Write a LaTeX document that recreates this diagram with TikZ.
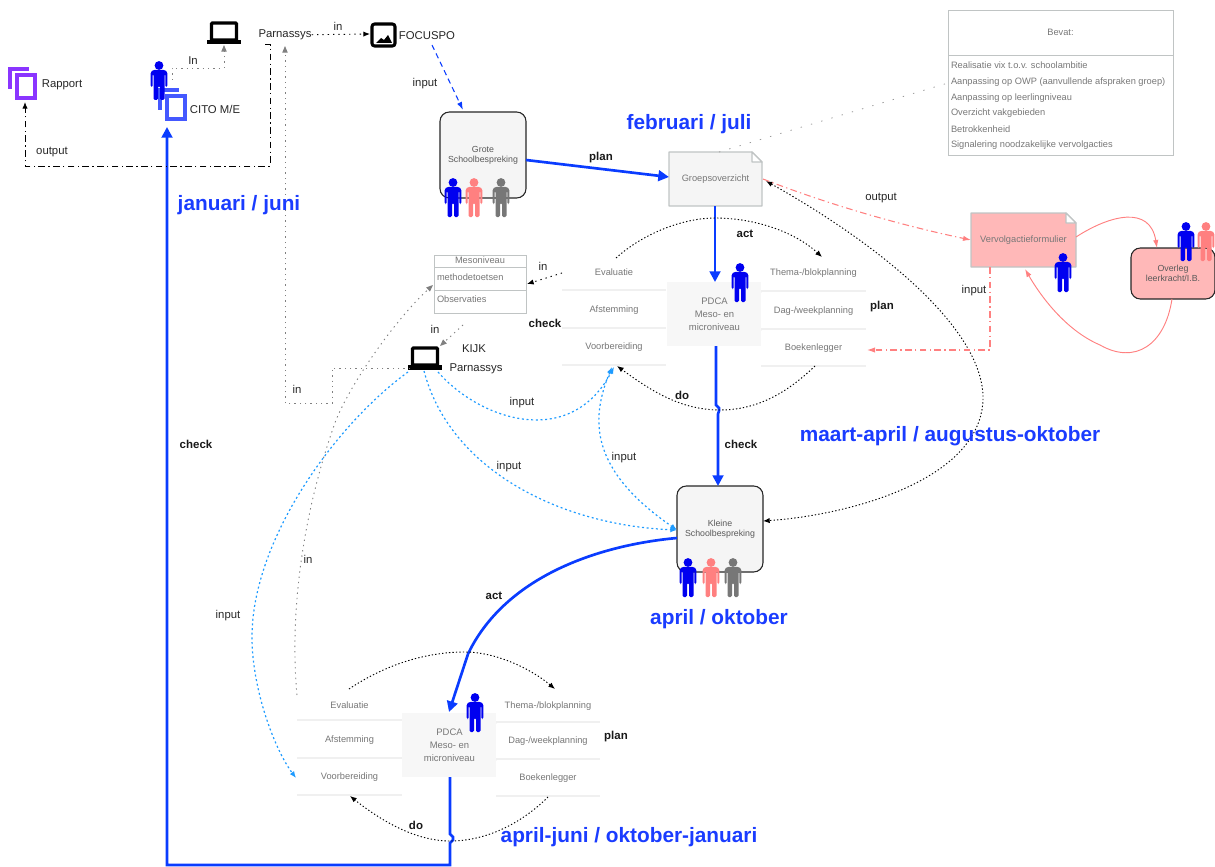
\documentclass[tikz,border=0pt]{standalone}
\usepackage{fontspec}
\setmainfont{Liberation Sans}
\usetikzlibrary{arrows.meta,calc}
\definecolor{titleblue}{HTML}{1A3CFF}
\definecolor{flowblue}{HTML}{0A3CFF}
\definecolor{skyblue}{HTML}{1E9BFF}
\definecolor{salmon}{HTML}{FF8080}
\definecolor{paleRed}{HTML}{FFB8B8}
\definecolor{boxedge}{HTML}{C0C4C4}
\definecolor{boxtext}{HTML}{777777}
\definecolor{personblue}{HTML}{0000F0}
\definecolor{persongray}{HTML}{777777}
\definecolor{docpurple}{HTML}{8A35FF}
\definecolor{docblue}{HTML}{4458FF}
\tikzset{
  lbl/.style={font=\fontsize{8.5}{10}\selectfont,inner sep=0pt,text=black!85,yshift=-1.3pt},
  boldlbl/.style={font=\fontsize{8.6}{10}\selectfont\bfseries,inner sep=0pt,text=black!90,yshift=-1.3pt},
  ttl/.style={font=\fontsize{15.6}{18}\selectfont\bfseries,inner sep=0pt,text=titleblue,yshift=-1.5pt},
  anybox/.style={inner sep=0pt,outer sep=0pt,align=center,text=boxtext,font=\fontsize{6.95}{9.5}\selectfont},
  meetbox/.style={anybox,rounded corners=7pt,fill=black!4,draw=black!85,line width=.8pt,text=black!65,font=\fontsize{6.6}{7.6}\selectfont},
  meetred/.style={meetbox,fill=paleRed},
  pdcabox/.style={anybox,fill=black!3,font=\fontsize{7.1}{9.8}\selectfont},
  listbox/.style={anybox,fill=white},
  rowbox/.style={anybox,draw=boxedge,line width=.7pt},
  docbox/.style={anybox},
  listtxt/.style={anybox,anchor=west,align=left,yshift=-.7pt},
  flow/.style={draw=flowblue,line width=2pt,-{Triangle[length=8pt,width=8pt]}},
  blackdot/.style={draw=black,line width=.7pt,dash pattern=on 1pt off 1.6pt,-{Latex[length=5pt,width=4pt]}},
  sparsedot/.style={draw=black,line width=.7pt,dash pattern=on 1pt off 3pt,-{Latex[length=5pt,width=4pt]}},
  graydot/.style={draw=black!50,line width=.7pt,dash pattern=on 1pt off 3pt,-{Triangle[length=5pt,width=4pt]}},
  skydot/.style={draw=skyblue,line width=.9pt,dash pattern=on 1.5pt off 2pt,-{Latex[length=5pt,width=4pt]}},
  reddash/.style={draw=salmon,line width=.8pt,dash pattern=on 5pt off 2.5pt on 1pt off 2.5pt,-{Latex[length=6pt,width=4pt]}},
  redline/.style={draw=salmon,line width=.7pt,-{Latex[length=6pt,width=4pt]}},
  blackdash/.style={draw=black,line width=.65pt,dash pattern=on 5pt off 2.5pt on 1pt off 2.5pt,-{Latex[length=5pt,width=4pt]}},
  bluedash/.style={draw=flowblue,line width=.8pt,dash pattern=on 4pt off 3pt,-{Latex[length=6pt,width=4pt]}},
  sep/.style={draw=black!6,line width=1pt},
}
\newcommand{\bx}[7]{\node[#6,minimum width={(#4-#2)*0.75pt},minimum height={(#5-#3)*0.75pt}] (#1) at ({(#2+#4)/2},{(#3+#5)/2}) {#7};}
\newcommand{\lst}[6]{\bx{#1}{#2}{#3}{#4}{#5}{listbox}{\raisebox{-1pt}{#6}}\draw[sep] (#2,#5) -- (#4,#5);}
\newcommand{\docb}[7]{\path[fill=#6,draw=boxedge,line width=.9pt,line join=round] (#2,#3) -- ({#4-10},#3) -- (#4,{#3+10}) -- (#4,#5) -- (#2,#5) -- cycle;
  \path[fill=white,draw=boxedge,line width=.9pt,line join=round] ({#4-10},#3) -- ({#4-10},{#3+10}) -- (#4,{#3+10}) -- cycle;
  \bx{#1}{#2}{#3}{#4}{#5}{docbox}{#7}}
\newcommand{\person}[3]{\begin{scope}[shift={(#1,#2)}]
  \fill[#3] (0,4.5) circle[radius=4.4];
  \fill[#3,rounded corners=1pt] (-8.3,11) -- (-5.5,8.8) -- (5.5,8.8) -- (8.3,11) -- (8.3,26) -- (6.4,26) -- (6.4,13) -- (5.5,13) -- (5.5,39) -- (1,39) -- (1,25) -- (-1,25) -- (-1,39) -- (-5.5,39) -- (-5.5,13) -- (-6.4,13) -- (-6.4,26) -- (-8.3,26) -- cycle;
\end{scope}}
\newcommand{\laptop}[3]{\begin{scope}[shift={(#2,#3)}]
  \draw[black,line width=2.3pt,rounded corners=.6pt] (-12.5,-17) rectangle (12.5,0);
  \fill[black] (-17,0) rectangle (17,4.5);
  \coordinate (#1) at (0,0);
\end{scope}}
\newcommand{\copies}[4]{\draw[#4,line width=2.7pt] (#2,{#3+20}) -- (#2,#3) -- ({#2+19},#3);
  \draw[#4,line width=2.7pt,fill=white] ({#2+7},{#3+6}) rectangle ({#2+25},{#3+29});
  \coordinate (#1) at ({#2+15},{#3+31});}
\begin{document}
\begin{tikzpicture}[x=0.75pt,y=-0.75pt]
\useasboundingbox (0,0) rectangle (1215,867);
% boxes
\bx{grote}{440}{112}{526}{198}{meetbox}{Grote\\Schoolbespreking}
\bx{kleine}{677}{486}{763}{572}{meetbox}{Kleine\\Schoolbespreking}
\bx{overleg}{1131}{248}{1215}{299}{meetred}{Overleg\\leerkracht/I.B.}
\docb{groeps}{669}{152}{762}{206}{black!4}{Groepsoverzicht}
\docb{vervolg}{971}{213}{1076}{267}{paleRed}{Vervolgactieformulier}
% first PDCA
\lst{ev1}{562}{254}{666}{290}{Evaluatie}
\lst{af1}{562}{292}{666}{328}{Afstemming}
\lst{vo1}{562}{330}{666}{365}{Voorbereiding}
\bx{pdca1}{667}{282}{762}{346}{pdcabox}{PDCA\\Meso- en\\microniveau}
\lst{th1}{761}{256}{866}{291}{Thema-/blokplanning}
\lst{da1}{761}{293}{866}{329}{Dag-/weekplanning}
\lst{bo1}{761}{331}{866}{366}{Boekenlegger}
% second PDCA
\lst{ev2}{297}{690}{402}{720}{Evaluatie}
\lst{af2}{297}{722}{402}{758}{Afstemming}
\lst{vo2}{297}{759}{402}{795}{Voorbereiding}
\bx{pdca2}{402}{713}{497}{777}{pdcabox}{PDCA\\Meso- en\\microniveau}
\lst{th2}{496}{691}{600}{722}{Thema-/blokplanning}
\lst{da2}{496}{724}{600}{759}{Dag-/weekplanning}
\lst{bo2}{496}{761}{600}{796}{Boekenlegger}
% Mesoniveau
\bx{mesoA}{434}{255}{526}{267}{rowbox}{\raisebox{1pt}{Mesoniveau}}
\bx{mesoB}{434}{267}{526}{290}{rowbox}{}
\bx{mesoC}{434}{290}{526}{313}{rowbox}{}
\node[listtxt] (mesoBt) at (437,276) {methodetoetsen};
\node[listtxt] (mesoCt) at (437,298) {Observaties};
% Bevat
\bx{bevat}{948}{10}{1173}{155}{rowbox}{}
\bx{bevatH}{948}{10}{1173}{55}{rowbox}{Bevat:}
\node[listtxt] (b1) at (951,64) {Realisatie vix t.o.v. schoolambitie};
\node[listtxt] (b2) at (951,81) {Aanpassing op OWP (aanvullende afspraken groep)};
\node[listtxt] (b3) at (951,97) {Aanpassing op leerlingniveau};
\node[listtxt] (b4) at (951,112) {Overzicht vakgebieden};
\node[listtxt] (b5) at (951,128) {Betrokkenheid};
\node[listtxt] (b6) at (951,144) {Signalering noodzakelijke vervolgacties};
% icons
\laptop{lapA}{224}{40}
\laptop{lapB}{425}{365}
\draw[black,line width=2.3pt,rounded corners=2pt] (372,24) rectangle (395,46);
\fill[black] (376,43) -- (381,38) -- (384,40) -- (388,35) -- (392,43) -- cycle;
\coordinate (foc) at (383,34);
\copies{rapI}{10}{69}{docpurple}
\copies{citI}{160}{90}{docblue}
% text anchors
\node[lbl] (parnA) at (285,33) {Parnassys};
\node[lbl] (focus) at (427,34) {FOCUSPO};
\node[lbl] (rapT) at (62,83) {Rapport};
\node[lbl] (citT) at (215,108) {CITO M/E};
\node[lbl] (kijk) at (474,347) {KIJK};
\node[lbl] (parnB) at (476,367) {Parnassys};
\coordinate (parnAout) at (265,44);
\coordinate (parnAin) at (285,46);
% main flow
\draw[flow] (526,160) -- (669,177);
\draw[flow] (715,206) -- (715,282);
\draw[flow] (716,346) -- (716,405) -- (719,408) -- (719,411) -- (718,414) -- (718,486);
\draw[flow] (677,538) .. controls (600,545) and (510,575) .. (471,648) -- (468,654) -- (449,712);
\draw[flow] (450,777) -- (450,834) -- (453,837) -- (453,840) -- (450,843) -- (450,865) -- (167,865) -- (167,127);
% PDCA cycles
\draw[blackdot] (616,258) .. controls (645,232) and (685,218) .. (715,218) .. controls (755,218) and (795,232) .. (822,257);
\draw[blackdot] (815,366) .. controls (790,390) and (760,410) .. (720,410) .. controls (680,410) and (650,390) .. (617,366);
\draw[blackdot] (349,689) .. controls (385,665) and (425,652) .. (465,652) .. controls (495,652) and (530,668) .. (555,689);
\draw[blackdot] (548,797) .. controls (525,820) and (490,841) .. (450,841) .. controls (415,841) and (380,820) .. (350,796);
% long black curve
\draw[blackdot,{Latex[length=5pt,width=4pt]}-{Latex[length=5pt,width=4pt]}] (766,181) .. controls (880,245) and (985,330) .. (983,400) .. controls (980,480) and (850,515) .. (kleine.east|-0,521);
% red
\draw[reddash] (763,179) .. controls (830,205) and (900,225) .. (971,240);
\draw[reddash] (990,267) -- (990,350) -- (867,350);
\draw[redline] (1076,237) .. controls (1110,215) and (1150,205) .. (1157,248);
\draw[redline] (1172,299) .. controls (1165,345) and (1135,365) .. (1100,345) .. controls (1065,330) and (1040,295) .. (1025,269);
% top left
\draw[graydot] (172,80) -- (172,68) -- (224,68) -- (224,45);
\draw[sparsedot] (parnA.east) -- (370,34);
\draw[bluedash] (432,45) -- (463,110);
\draw[blackdash] (parnAout) -- (270,44) -- (270,166) -- (25,166) -- (25,102);
\draw[graydot] (410,368) -- (332,368) -- (332,403) -- (285,403) -- (parnAin);
% gray verticals
\draw[graydot] (297,695) .. controls (290,620) and (300,520) .. (336,420) .. controls (355,375) and (400,315) .. (433,285);
\draw[graydot] (463,325) -- (440,346);
\draw[sparsedot] (562,273) -- (527,284);
\draw[draw=black!40,line width=.6pt,dash pattern=on 1pt off 7pt] (719,152) -- (948,83);
% sky blue
\draw[skydot] (438,372) .. controls (480,420) and (570,450) .. (614,367);
\draw[skydot] (424,371) .. controls (450,470) and (560,525) .. (677,530);
\draw[skydot,{Latex[length=5pt,width=4pt]}-{Latex[length=5pt,width=4pt]}] (612,367) .. controls (590,420) and (590,470) .. (677,530);
\draw[skydot] (408,372) .. controls (335,425) and (252,540) .. (252,637) .. controls (252,690) and (275,750) .. (296,778);
% labels
\node[boldlbl] at (601,156) {plan};
\node[boldlbl] at (745,232) {act};
\node[boldlbl] at (741,443) {check};
\node[boldlbl] at (494,594) {act};
\node[boldlbl] at (196,443) {check};
\node[boldlbl] at (882,305) {plan};
\node[boldlbl] at (616,735) {plan};
\node[boldlbl] at (682,394) {do};
\node[boldlbl] at (416,824) {do};
\node[boldlbl] at (545,322) {check};
\node[lbl] at (193,59) {In};
\node[lbl] at (338,25) {in};
\node[lbl] at (425,82) {input};
\node[lbl] at (52,150) {output};
\node[lbl] at (881,196) {output};
\node[lbl] at (974,289) {input};
\node[lbl] at (543,265) {in};
\node[lbl] at (435,328) {in};
\node[lbl] at (297,388) {in};
\node[lbl] at (308,558) {in};
\node[lbl] at (522,401) {input};
\node[lbl] at (509,465) {input};
\node[lbl] at (624,456) {input};
\node[lbl] at (228,614) {input};
% titles
\node[ttl] at (689,122) {februari / juli};
\node[ttl] at (239,203) {januari / juni};
\node[ttl] at (950,434) {maart-april / augustus-oktober};
\node[ttl] at (719,617) {april / oktober};
\node[ttl] at (629,835) {april-juni / oktober-januari};
% persons
\person{453}{178}{personblue}\person{474}{178}{salmon}\person{501}{178}{persongray}
\person{688}{558}{personblue}\person{711}{558}{salmon}\person{733}{558}{persongray}
\person{740}{263}{personblue}
\person{475}{693}{personblue}
\person{1063}{253}{personblue}
\person{1186}{222}{personblue}\person{1206}{222}{salmon}
\person{159}{61}{personblue}
\end{tikzpicture}
\end{document}
